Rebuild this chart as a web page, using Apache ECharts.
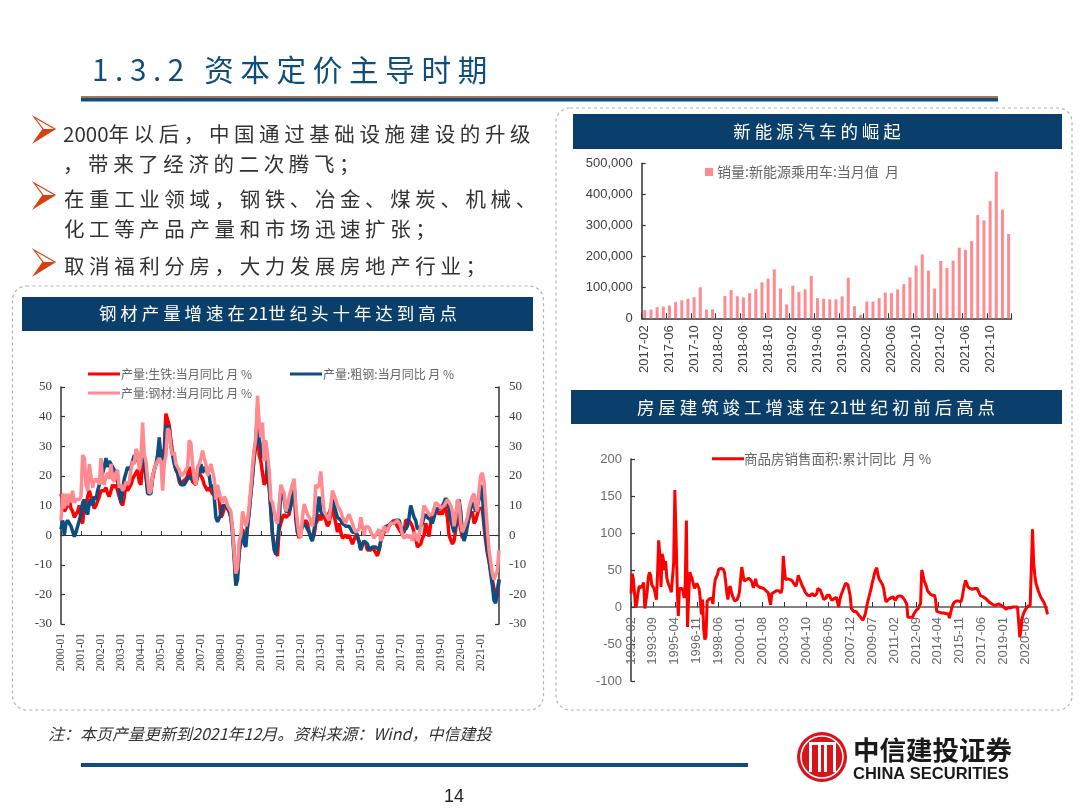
<!DOCTYPE html>
<html><head><meta charset="utf-8">
<style>html,body{margin:0;padding:0;background:#fff}#c{width:1080px;height:810px}</style>
<script src="https://cdn.jsdelivr.net/npm/echarts@6/dist/echarts.min.js"></script>
</head><body><div id="c"></div>
<script>
const pigIron = [
 14,14,8,9,10,12,9,8,6,5.5,8,10,
 5,4,10,9,13,15,13,11,9,10,10,13,
 15,15,15,16,14,13,15,17,16,17,15,15,
 11,10,13,17,15,16,17,19,20,21,22,18,
 17,25,24,20,16,14,15,19,22,24,25,31,
 26,28,29,41,41,37,32,28,25,22,21,18,
 17,18,18,19,20,23,23,18,18,17,20,21,
 20,19,17,16,15,16,15,14,14,13,13,12,
 6,7,9,10,9,8,6,2,-6,-17,-13,-6,
 -2,2,2,-2,3,8,14,20,26,30,41,27,
 25,25,17,18,24,17,8,0,-3,-6,-7,2,
 2,6,7,6,6,7,10,17,16,5,1,-1,
 1,3,4,5,4,1,0,-1,0,4,5,7,
 5,7,6,5,3,4,7,9,9,4,1,4,
 1,-1,-1,0,-1,0,0,-3,-3,0,-1,-2,
 -5,-3,-2,-3,-5,-5,-5,-4,-5,-5,-7,-5,
 -2,-2,1,2,3,3,4,4,5,4,3,2,
 1,1,1,5,5,5,5,3,1,-1,-4,-4.5,
 -3,-1,0,4,4,-0.5,4,7,8,8,8,7,
 8,7,10,9,6,0,0,-3,-2,2,7,5,
 2,-1,-1,2,4,6,7,8,4,5,7,9,
 9,9,3,-2,-6,-9,-12,-15,-18,-20,-21,-15];
const crudeSteel = [
 2,5,0,4,5,4,3,3,-0.5,1,3,5,
 7,11,12,8,7,11,12,10,13,12,15,17,
 17,21,23,26,23,25,25,23,22,22,18,16,
 11,11,19,21,23,22,23,25,27,26,25,26,
 27,28,24,20,14,13.5,14,20,22,24,27,33,
 25,26,27,37,37,36,30,27,24,22,21,19,
 17,16.5,17,18,19,20,19,19,19,18,20,22,
 24,21,23,22,21,20,16,17,13,6,4.5,5,
 7,10,10.5,10,9,8,6,0,-8,-17,-15,-5,
 0,1,-3,-4,3,8,14,20,28,31,43,32,
 30,26,32,28,22,16,9,0,-5,-6.5,-2,4,
 15,15,12,8,8,8,10,14,17,8,1,0,
 2,3,4,3,2,1,-1,-2,2,5,9,13,
 8,7,7,7,6,6,9,12,12,8,6,6,
 5,4,4,3,3,3,2,1,1,1,0,0,
 -5,-3,-2,-2,-3,-5,-5,-4,-4,-4,-4,-5,
 -2,1,2,3,3,3,4,4,4,5,5,5,
 3,2,2,2,3,6,10,10,6,5,2,2,
 3,4,6,7,6,6,5,4,6,8,9,9,
 9,10,11,12.5,11,9,5,3,1,3,8,12,
 8,1,-2,0,3,6,9,11,10,8,8,12,
 17,14,5,1,-5,-8,-13,-17,-22,-23,-23,-15];
const steelProducts = [
 5,14,9,14,10,14,11,15,11,12,12,12,
 13,27,26,17,15,24,20,16,19,18,19,17,
 26,18,17,20,21,19,24,19,18,21,22,16,
 17,15,16,18,17,18,22,25,24,29,28,22,
 25,38,27,25,19,14,15,20,22,24,24,26,
 25,15,24,27,36,35,30,27,28,24,23,22,
 20,20,21,22,23,32,31,24,19,17,23,24,
 26,28.5,26,24,20,20,24,24,19,12,17,17,
 12,11,13,12,10,9,8,2,-6,-13,-11,-2,
 0,8,8,3,5,10,16,23,29,33,47,38,
 33,38,25,32,32,22,12,11,11,5,4,4,
 17,17,14,8,10,13,15,17,19,10,4,0,
 -1,6,10.5,10,7,6,5,3,7,17,16,17,
 21.5,14,8,7,6,5,10,15,15,12,10,10,
 8,6,5,4,6,7,7,4,2,1,1,2,
 6,3,0,3,3,2.5,1,0,-1,-1,1,2,
 -2,0,3,2,1,3,4,4,4,4,5,5,
 3,0,-1,-0.5,0,-1,0,-2,1,0,-2,0,
 3,6,10,10,8,7,7,7,9,11,11,10,
 9,9,10,11,12,12,10,8,3,6,12,11,
 4,1,1,4,6,9,11,13,14,10,8,15,
 20,21,18,10,2,-5,-9,-13,-15,-15,-12,-5];
const evSales = [
 26000,28000,36000,38000,41000,52000,58000,63000,68000,100000,
 28000,29000,0,72000,91000,71000,67000,81000,94000,116000,
 128000,158000,96000,45000,105000,85000,93000,137000,65000,63000,
 61000,61000,71000,131000,39000,11000,54000,54000,65000,83000,
 81000,93000,110000,132000,170000,206000,154000,96000,185000,162000,
 186000,228000,221000,249000,333000,316000,378000,473000,351000,272000];
const housingSales = [
 18,45,38,20,-1,5,18,28,27,26,25,33,-2,-1,20,40,47,43,30,
 28,25,18,10,45,90,70,27,72,65,50,62,40,33,35,25,20,18,60,
 158,100,30,-12,25,25,25,22,12,30,117,-27,15,47,42,38,38,25,23,
 32,30,25,12,-10,10,-30,-44,-40,8,10,11,13,12,4,25,37,39,44,
 51,52,52,52,51,47,35,20,10,25,28,20,15,11,8,8,10,14,20,
 38,54,45,35,36,37,38,39,38,36,33,26,30,38,30,28,27,26,26,
 25,25,24,22,20,19,10,3,18,19,20,21,22,22,22,21,19,25,69,
 50,37,37,38,37,37,36,35,32,30,28,35,43,38,35,30,27,24,20,
 18,16,14,15,14,18,20,15,13,18,25,24,23,22,15,10,8,12,16,
 15,16,12,9,9,11,13,13,13,0,10,16,20,24,28,32,32,30,30,
 15,-2,-4,-6,-7,-6,-8,-10,-12,-14,-16,-18,-19,-10,-2,6,12,18,24,
 32,38,45,50,53,44,38,36,33,30,25,15,7,8,10,11,12,13,14,
 14,9,11,14,14,15,14,14,12,10,7,4,-14,-14,-14,-13,-14,-10,-8,
 -5,-4,-2,-1,5,50,44,36,34,28,22,20,18,17,16,17,16,10,-6,
 -6,-7,-7,-8,-8,-8,-9,-9,-9,-9,-15,-8,-2,3,6,7,8,8,8,
 7,7,12,22,30,36,32,27,26,25,25,24,24,25,24,25,22,18,15,
 15,14,12,12,10,9,7,6,5,4,2,2,3,3,3,4,3,2,1,
 0,-1,-3,-2,-1,-1,-1,0,0,0,0,0,0,-20,-41,-30,-15,-10,-6,
 -3,-1,1,2,2,3,105,60,43,32,27,22,18,14,11,9,6,4,-3,-10];

const names = {
  iron: '产量:生铁:当月同比 月 %',
  crude: '产量:粗钢:当月同比 月 %',
  steel: '产量:钢材:当月同比 月 %',
  ev: '销量:新能源乘用车:当月值  月',
  house: '商品房销售面积:累计同比  月 %'
};
const colors = { red:'#ff0000', navy:'#0b4f82', pink:'#ff8a90', bar:'#ff8a8f', head:'#0a3f6b', ink:'#404040' };

function months(y, m, n){
  const out = [];
  for (let i = 0; i < n; i++){
    const t = (y * 12 + m - 1) + i;
    out.push(Math.floor(t / 12) + '-' + String(t % 12 + 1).padStart(2, '0'));
  }
  return out;
}
const catSteel = months(2000, 1, pigIron.length);
const catEv = months(2017, 2, evSales.length);
const catHouse = months(1992, 2, housingSales.length);

const SERIF = '"Liberation Serif"', SANS = '"Liberation Sans"', CJK = '"Noto Sans CJK SC"';
const spaced = s => s.replace(/([^\x00-\x7f])(?=.)/g, '$1 ');

function txt(text, x, y, size, fill, extra){
  const e = extra || {};
  return { type:'text', x, y, z:e.z||5, style:{ text, fill,
    font:(e.style||'') + ' ' + (e.weight||'') + ' ' + size + 'px ' + (e.family||CJK),
    align:e.align||'left', verticalAlign:'middle' } };
}
function box(x, y, w, h){
  return { type:'rect', z:1, shape:{x,y,width:w,height:h,r:14},
    style:{ fill:'none', stroke:'#b4b4b4', lineWidth:1.2, lineDash:[3,3] } };
}
function band(x, y, w, h, fill){
  return { type:'rect', z:2, shape:{x,y,width:w,height:h}, style:{ fill } };
}
function bullet(x, y){
  const c = '#d9400f';
  return { type:'group', z:3, children:[
    { type:'polygon', shape:{ points:[[x,y],[x+21,y+12],[x,y+25],[x+9,y+12]] }, style:{ fill:'#fff', stroke:c, lineWidth:1.2 } },
    { type:'polygon', shape:{ points:[[x,y+25],[x+21,y+12],[x+9,y+12]] }, style:{ fill:c } }
  ]};
}
const logoBars = [[-13,-15,3,30],[-4,-15,3,30],[2,-15,3,30],[11,-15,3,30]];
const graphics = [
  txt(spaced('1.3.2 资本定价主导时期').replace('1.3.2','1 . 3 . 2  '), 92, 70, 29.6, '#0f4d7c'),
  band(81, 96, 917, 1.5, '#c8702a'),
  band(81, 97.5, 917, 4, '#0f4d80'),
  bullet(34,117), bullet(34,183), bullet(34,250),
  txt(spaced('2000年以后，中国通过基础设施建设的升级'), 63, 134, 20.5, '#333'),
  txt(spaced('，带来了经济的二次腾飞；'), 63, 164, 20.5, '#333'),
  txt(spaced('在重工业领域，钢铁、冶金、煤炭、机械、'), 64, 199, 20.5, '#333'),
  txt(spaced('化工等产品产量和市场迅速扩张；'), 64, 229, 20.5, '#333'),
  txt(spaced('取消福利分房，大力发展房地产行业；'), 64, 266, 20.5, '#333'),
  box(12.5, 286, 531, 424),
  box(556, 108, 516, 602),
  band(22, 297, 511, 34, colors.head),
  band(573, 114, 489, 35, colors.head),
  band(571, 390, 491, 34, colors.head),
  txt(spaced('钢材产量增速在21世纪头十年达到高点'), 278, 313, 17.5, '#fff', {align:'center'}),
  txt(spaced('新能源汽车的崛起'), 817, 131, 17.5, '#fff', {align:'center'}),
  txt(spaced('房屋建筑竣工增速在21世纪初前后高点'), 816, 407, 17.5, '#fff', {align:'center'}),
  txt('注：本页产量更新到2021年12月。资料来源：Wind，中信建投', 48, 734, 16, '#333', {style:'italic'}),
  band(81, 763, 667, 4, '#0f4d80'),
  txt('14', 454, 797, 18, '#222', {family:SANS, align:'center'}),
  { type:'group', x:822, y:757, z:3, children:[
    { type:'circle', shape:{cx:0,cy:0,r:25}, style:{fill:'#d7141a'} },
    { type:'circle', shape:{cx:0,cy:0,r:21}, style:{fill:'none',stroke:'#fff',lineWidth:1.5} },
    ...logoBars.map(b => ({ type:'rect', shape:{x:b[0],y:b[1],width:b[2],height:b[3]}, style:{fill:'#fff'} })),
    { type:'rect', shape:{x:-13,y:-15,width:27,height:3}, style:{fill:'#fff'} }
  ]},
  txt('中信建投证券', 853, 750, 26.5, '#1a1a1a', {weight:'bold'}),
  txt('CHINA SECURITIES', 853, 774, 16.5, '#1a1a1a', {weight:'bold', family:SANS})
];

const axisLine = { show:true, lineStyle:{ color:'#333', width:1.5 } };
const tick = { show:true, inside:true, length:4, lineStyle:{ color:'#333', width:1.2 } };
const smallLegend = { itemWidth:32, itemHeight:3, icon:'rect', selectedMode:false,
  textStyle:{ fontFamily:CJK, fontSize:12, color:'#666', padding:[0,0,0,-4] } };

const option = {
  animation:false,
  backgroundColor:'#fff',
  graphic:{ elements:graphics },
  grid:[
    { left:61, top:387, width:438, height:237, containLabel:false },
    { left:641.7, top:163.3, width:370, height:155, containLabel:false },
    { left:631, top:459, width:416.5, height:222, containLabel:false }
  ],
  legend:[
    Object.assign({ left:83, top:363, data:[names.iron] }, smallLegend),
    Object.assign({ left:285, top:363, data:[names.crude] }, smallLegend),
    Object.assign({ left:83, top:382, data:[names.steel] }, smallLegend),
    { left:700, top:160, data:[names.ev], itemWidth:8, itemHeight:8, itemGap:6, icon:'rect', selectedMode:false,
      textStyle:{ fontFamily:CJK, fontSize:14, color:'#666', padding:[0,0,0,-1] } },
    { left:707, top:447, data:[names.house], itemWidth:32, itemHeight:3, icon:'rect', selectedMode:false,
      textStyle:{ fontFamily:CJK, fontSize:13.5, color:'#666', padding:[0,0,0,-5] } }
  ],
  xAxis:[
    { type:'category', gridIndex:0, data:catSteel, boundaryGap:false, position:'bottom',
      axisLine:{show:false, onZero:false}, axisTick:{show:false}, splitLine:{show:false},
      axisLabel:{ interval:11, rotate:90, margin:9, fontFamily:SERIF, fontSize:11.5, color:colors.ink, hideOverlap:false } },
    { type:'category', gridIndex:0, data:catSteel, boundaryGap:false, position:'bottom',
      axisLine:{ show:true, onZero:true, lineStyle:{color:'#333',width:1.2} },
      axisTick:{ show:true, inside:true, interval:11, length:4, lineStyle:{color:'#333'} },
      axisLabel:{ show:false }, splitLine:{show:false} },
    { type:'category', gridIndex:1, data:catEv, boundaryGap:true,
      axisLine:axisLine, axisTick:{ show:true, inside:true, interval:3, length:5, lineStyle:{color:'#333'} }, splitLine:{show:false},
      axisLabel:{ interval:3, rotate:90, margin:7, fontFamily:SANS, fontSize:13, color:colors.ink, hideOverlap:false } },
    { type:'category', gridIndex:2, data:catHouse, boundaryGap:false,
      axisLine:{ show:true, onZero:true, lineStyle:{color:'#595959',width:1.5} },
      axisTick:{ show:true, inside:true, interval:18, length:5, lineStyle:{color:'#333'} }, splitLine:{show:false},
      axisLabel:{ interval:18, rotate:90, margin:-64, showMaxLabel:false, fontFamily:SANS, fontSize:13, color:'#6b6b6b', hideOverlap:false } }
  ],
  yAxis:[
    { type:'value', gridIndex:0, min:-30, max:50, interval:10, position:'left', axisLine:axisLine, axisTick:tick, splitLine:{show:false},
      axisLabel:{ margin:9, fontFamily:SERIF, fontSize:13, color:colors.ink } },
    { type:'value', gridIndex:0, min:-30, max:50, interval:10, position:'right', axisLine:axisLine, axisTick:tick, splitLine:{show:false},
      axisLabel:{ margin:10, fontFamily:SERIF, fontSize:13, color:colors.ink } },
    { type:'value', gridIndex:1, min:0, max:500000, interval:100000, axisLine:axisLine, axisTick:tick, splitLine:{show:false},
      axisLabel:{ margin:9, fontFamily:SANS, fontSize:13, color:colors.ink, formatter:v => v.toLocaleString('en-US') } },
    { type:'value', gridIndex:2, min:-100, max:200, interval:50, axisLine:axisLine, axisTick:tick, splitLine:{show:false},
      axisLabel:{ margin:9, fontFamily:SANS, fontSize:13, color:'#6b6b6b' } }
  ],
  series:[
    { name:names.iron, type:'line', xAxisIndex:0, yAxisIndex:0, data:pigIron, symbol:'none', z:2, lineStyle:{color:colors.red,width:3.5}, itemStyle:{color:colors.red} },
    { name:names.crude, type:'line', xAxisIndex:0, yAxisIndex:0, data:crudeSteel, symbol:'none', z:3, lineStyle:{color:colors.navy,width:3.5}, itemStyle:{color:colors.navy} },
    { name:names.steel, type:'line', xAxisIndex:0, yAxisIndex:0, data:steelProducts, symbol:'none', z:4, lineStyle:{color:colors.pink,width:3.5}, itemStyle:{color:colors.pink} },
    { name:names.ev, type:'bar', xAxisIndex:2, yAxisIndex:2, data:evSales, barWidth:3, itemStyle:{color:colors.bar} },
    { name:names.house, type:'line', xAxisIndex:3, yAxisIndex:3, data:housingSales, symbol:'none', lineStyle:{color:colors.red,width:3}, itemStyle:{color:colors.red} }
  ]
};
const chart = echarts.init(document.getElementById('c'), null, { renderer:'canvas', width:1080, height:810 });
chart.setOption(option);
</script></body></html>
